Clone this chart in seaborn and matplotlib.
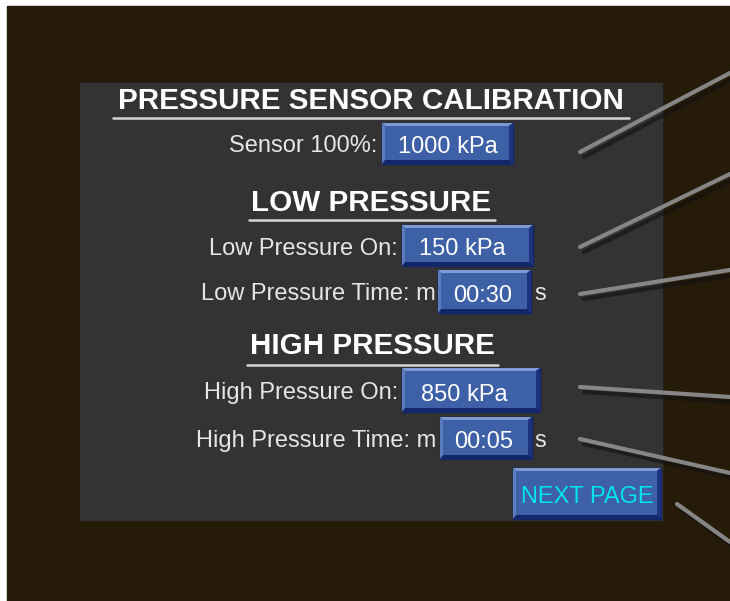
import numpy as np
import pandas as pd
import matplotlib.pyplot as plt
import seaborn as sns
from matplotlib.patches import Rectangle, Polygon

# screen texts
title = 'PRESSURE SENSOR CALIBRATION'
sections = ['LOW PRESSURE', 'HIGH PRESSURE']
labels = ['Sensor 100%:', 'Low Pressure On:', 'Low Pressure Time: m',
          'High Pressure On:', 'High Pressure Time: m']
values = ['1000 kPa', '150 kPa', '00:30', '850 kPa', '00:05']
units = ['', '', 's', '', 's']
next_label = 'NEXT PAGE'

# leader lines (start x, start y, end x, end y) in screen pixels
lead_x0 = [580, 580, 580, 580, 580, 677]
lead_y0 = [152, 247, 294, 387, 439, 504]
lead_x1 = [730, 730, 730, 730, 730, 730]
lead_y1 = [73, 174, 270, 397, 473, 542]

sns.set_theme(style='white')
plt.rcParams['font.family'] = ['Liberation Sans', 'DejaVu Sans']

W, H = 730, 601
fig = plt.figure(figsize=(W / 100, H / 100), dpi=100, facecolor='white')
ax = fig.add_axes([0, 0, 1, 1])

# background + panel
ax.add_patch(Rectangle((7, 6), W - 7, H - 6, color='#261a09', zorder=0))
ax.add_patch(Rectangle((80, 83), 582, 437, color='#333333', zorder=1))


def button(x0, y0, x1, y1, text, color='white', tx=None):
    b = 3
    ax.add_patch(Rectangle((x0, y0), x1 - x0, y1 - y0, color='#14266a', zorder=3))
    # top bevel
    ax.add_patch(Polygon([(x0, y0), (x1, y0), (x1 - b - 1, y0 + b), (x0 + b, y0 + b)],
                         closed=True, color='#7d9ad4', zorder=4, lw=0))
    # left bevel
    ax.add_patch(Polygon([(x0, y0), (x0 + b, y0 + b), (x0 + b, y1 - b - 1), (x0, y1)],
                         closed=True, color='#5b7cc0', zorder=4, lw=0))
    # right bevel
    ax.add_patch(Polygon([(x1, y0), (x1, y1), (x1 - b - 1, y1 - b - 1), (x1 - b - 1, y0 + b)],
                         closed=True, color='#1d3380', zorder=4, lw=0))
    # face
    ax.add_patch(Rectangle((x0 + b, y0 + b), x1 - x0 - 2 * b - 1, y1 - y0 - 2 * b - 1,
                           color='#3d60a7', zorder=5, lw=0))
    cx = (x0 + x1) / 2 if tx is None else tx
    base = y1 - 11 if y1 - y0 < 48 else y1 - 16
    ax.text(cx, base, text, color=color, fontsize=17, ha='center',
            va='baseline', zorder=6)


# title and section headers
ax.text(371, 109, title, color='white', fontsize=21.3, fontweight='bold',
        ha='center', va='baseline', zorder=6)
ax.plot([113, 629], [118, 118], color='#d6d6d6', lw=1.8, zorder=6)
sec_y = [211, 354]
sec_x = [371, 372]
sec_line = [(249, 495, 220), (247, 498, 365)]
for s, sx, sy, (lx0, lx1, ly) in zip(sections, sec_x, sec_y, sec_line):
    ax.text(sx, sy, s, color='white', fontsize=21.3, fontweight='bold',
            ha='center', va='baseline', zorder=6)
    ax.plot([lx0, lx1], [ly, ly], color='#d6d6d6', lw=1.8, zorder=6)

# rows
label_right = [377, 398, 436, 398, 436]
baselines = [152, 255, 300, 399, 447]
boxes = [(382, 123, 513, 164), (402, 225, 533, 266), (438, 270, 531, 313),
         (402, 368, 540, 412), (440, 417, 532, 459)]
text_x = [448, 462, 483, 464, 484]
for lab, val, un, lr, by, bx, tx in zip(labels, values, units, label_right,
                                         baselines, boxes, text_x):
    ax.text(lr, by, lab, color='#e6e6e6', fontsize=17, ha='right',
            va='baseline', zorder=6)
    button(*bx, val, tx=tx)
    if un:
        ax.text(534, by, un, color='#e6e6e6', fontsize=17, ha='left',
                va='baseline', zorder=6)

button(513, 468, 661, 519, next_label, color='#00e4f0', tx=587)

# leader lines with shadow
rows = []
for i, (a, b, c, d) in enumerate(zip(lead_x0, lead_y0, lead_x1, lead_y1)):
    rows.append({'line': i, 'x': a, 'y': b})
    rows.append({'line': i, 'x': c, 'y': d})
lead = pd.DataFrame(rows)
shadow = lead.assign(x=lead['x'] + 4, y=lead['y'] + 5)
sns.lineplot(data=shadow, x='x', y='y', units='line', estimator=None, sort=False,
             color='#111111', alpha=0.6, lw=3, ax=ax, zorder=7, legend=False)
sns.lineplot(data=lead, x='x', y='y', units='line', estimator=None, sort=False,
             color='#868686', lw=3, ax=ax, zorder=8, legend=False)
ax.set_xlim(0, W)
ax.set_ylim(H, 0)
ax.axis('off')

fig.savefig('out.png', dpi=100, facecolor='white')
